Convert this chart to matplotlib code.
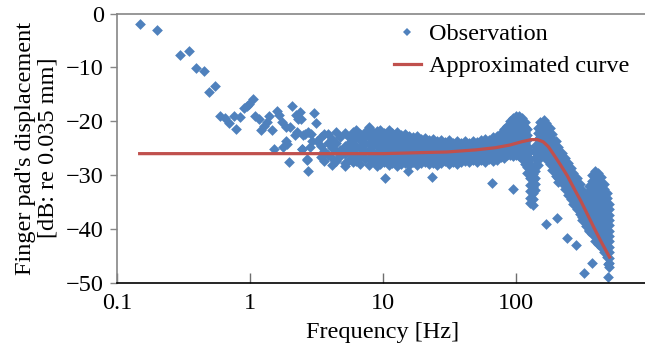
import matplotlib
matplotlib.use("Agg")
import matplotlib.pyplot as plt
from matplotlib.ticker import NullLocator
from matplotlib.lines import Line2D

plt.rcParams['font.family'] = ['Liberation Serif', 'DejaVu Serif']
plt.rcParams['font.size'] = 17.5

# ---------------- data ----------------
# sparse low-frequency observations
sparse_f = [0.148, 0.200, 0.296, 0.347, 0.396, 0.449, 0.496, 0.544, 0.600, 0.654,
            0.693, 0.756, 0.791, 0.848, 0.909, 0.952, 0.99, 1.06, 1.09, 1.16,
            1.22, 1.27, 1.35, 1.38, 1.47, 1.51, 1.60, 1.65, 1.75, 1.78,
            1.85, 1.87, 1.91, 1.96, 1.99, 2.08, 2.17, 2.20, 2.26, 2.30,
            2.37, 2.40, 2.44, 2.47, 2.52, 2.57, 2.69, 2.70, 2.72, 2.75,
            2.82, 2.90, 2.94, 3.02, 3.11, 3.20]
sparse_db = [-2.0, -3.1, -7.7, -7.0, -10.1, -10.7, -14.6, -13.4, -19.1, -19.3,
             -20.3, -19.1, -21.5, -19.2, -17.5, -17.2, -16.7, -15.9, -19.1, -19.5,
             -21.6, -20.8, -20.1, -19.1, -21.7, -25.1, -18.0, -18.9, -20.1, -24.8,
             -23.6, -21.1, -24.2, -27.6, -21.1, -17.2, -22.6, -18.9, -22.0, -19.6,
             -18.3, -19.5, -25.1, -25.1, -22.6, -22.3, -27.2, -27.0, -29.3, -22.0,
             -24.8, -22.3, -23.6, -18.5, -20.4, -23.6]

# isolated low outliers
outlier_f = [5.2, 10.4, 15.3, 23.5, 65.5, 95.0, 167.0, 202.0, 242.0, 284.0,
             326.0, 353.0, 374.0, 490.0, 496.0]
outlier_db = [-28.3, -30.5, -29.3, -30.3, -31.4, -32.6, -39.0, -37.9, -41.7, -42.9,
              -48.1, -40.4, -46.3, -46.5, -48.8]

# dense band of observations: (frequency, values at that frequency)
band_cols = [
    (3.39, [-22.9, -24.6, -26.7]),
    (3.63, [-22.4, -25.5, -27.4]),
    (3.89, [-22.3, -24.0, -26.2]),
    (4.17, [-23.2, -25.0, -26.8, -28.1]),
    (4.47, [-22.0, -24.0, -25.6, -27.3]),
    (4.79, [-23.0, -25.4, -26.5]),
    (5.14, [-22.2, -24.5, -26.0, -27.8]),
    (5.51, [-22.9, -24.0, -25.6, -27.2]),
    (5.90, [-22.0, -23.4, -25.0, -26.4, -27.6]),
    (6.32, [-21.7, -23.0, -24.5, -26.0, -27.3]),
    (6.77, [-22.3, -23.5, -25.0, -26.5, -28.0]),
    (7.26, [-22.0, -23.0, -24.3, -25.7, -27.0]),
    (7.78, [-21.1, -22.6, -24.0, -25.4, -26.8, -28.2]),
    (8.34, [-22.0, -23.3, -24.6, -26.0, -27.4]),
    (8.94, [-21.8, -23.0, -24.3, -25.7, -27.0, -28.3]),
    (9.57, [-21.6, -22.6, -23.5, -24.5, -25.4, -26.3, -27.2, -28.0]),
    (10.26, [-22.1, -23.0, -23.9, -24.9, -25.8, -26.7, -27.6]),
    (11.0, [-21.7, -22.6, -23.6, -24.5, -25.5, -26.4, -27.3, -28.2]),
    (11.78, [-22.2, -23.1, -24.0, -25.0, -25.9, -26.8, -27.7]),
    (12.64, [-22.0, -22.9, -23.8, -24.7, -25.7, -26.6, -27.5, -28.3]),
    (13.54, [-22.5, -23.4, -24.3, -25.2, -26.1, -27.0, -27.9]),
    (14.52, [-22.3, -23.2, -24.1, -25.0, -26.0, -26.9, -27.8]),
    (15.56, [-22.7, -23.6, -24.5, -25.4, -26.3, -27.2, -28.1]),
    (16.68, [-23.0, -23.9, -24.8, -25.7, -26.6, -27.5]),
    (17.88, [-22.8, -23.7, -24.6, -25.5, -26.4, -27.3, -28.2]),
    (19.17, [-23.3, -24.2, -25.1, -26.0, -26.9, -27.8]),
    (20.55, [-23.1, -24.0, -24.9, -25.8, -26.7, -27.6]),
    (22.03, [-23.5, -24.4, -25.3, -26.2, -27.1, -28.0]),
    (23.61, [-23.2, -24.1, -25.0, -25.9, -26.8, -27.7]),
    (25.31, [-23.7, -24.6, -25.5, -26.4, -27.3, -28.1]),
    (27.13, [-23.4, -24.3, -25.2, -26.1, -27.0, -27.8]),
    (29.08, [-23.8, -24.7, -25.6, -26.5, -27.4]),
    (31.17, [-23.5, -24.4, -25.3, -26.2, -27.1, -27.9]),
    (33.42, [-24.0, -24.9, -25.8, -26.7, -27.6]),
    (35.82, [-23.6, -24.5, -25.4, -26.3, -27.2, -28.0]),
    (38.40, [-24.1, -25.0, -25.9, -26.8, -27.6]),
    (41.16, [-23.7, -24.6, -25.5, -26.4, -27.3]),
    (44.12, [-24.0, -24.9, -25.8, -26.7, -27.6]),
    (47.30, [-23.6, -24.5, -25.4, -26.3, -27.2]),
    (50.70, [-23.9, -24.8, -25.7, -26.6, -27.5]),
    (54.35, [-23.5, -24.4, -25.3, -26.2, -27.1]),
    (58.26, [-23.3, -24.2, -25.1, -26.0, -26.9, -27.6]),
    (62.45, [-23.4, -24.3, -25.2, -26.1, -27.0]),
    (66.94, [-23.0, -23.9, -24.8, -25.7, -26.6, -27.4]),
    (71.76, [-22.8, -23.7, -24.6, -25.5, -26.4, -27.2]),
    (76.93, [-22.2, -23.1, -24.0, -24.9, -25.8, -26.7]),
    (81.0, [-21.5, -22.4, -23.3, -24.2, -25.1, -26.0, -26.8]),
    (85.2, [-20.8, -21.7, -22.6, -23.5, -24.4, -25.3, -26.2]),
    (89.6, [-20.0, -20.9, -21.8, -22.7, -23.6, -24.5, -25.4, -26.3]),
    (94.3, [-19.4, -20.3, -21.2, -22.1, -23.0, -23.9, -24.8, -25.7, -26.5]),
    (99.2, [-19.0, -19.9, -20.8, -21.7, -22.6, -23.5, -24.4, -25.3, -26.2]),
    (104.5, [-19.0, -19.9, -20.8, -21.7, -22.6, -23.5, -24.4, -25.4, -26.4]),
    (110.0, [-19.4, -20.3, -21.2, -22.1, -23.0, -24.0, -25.0, -26.0, -27.0]),
    (116.0, [-20.2, -21.1, -22.0, -23.0, -24.0, -25.0, -26.0, -27.0, -28.0]),
    (122.0, [-21.5, -22.5, -23.5, -24.5, -25.5, -26.5, -27.5, -28.5, -29.5]),
    (127.4, [-25.5, -27.0, -28.2, -29.4, -30.6, -31.8, -33.0, -34.2, -35.2]),
    (133.1, [-28.5, -29.7, -30.9, -32.1, -33.3, -34.5, -35.6]),
    (139.0, [-24.5, -25.7, -26.9, -28.1, -29.3, -30.5, -31.7, -32.8]),
    (145.2, [-21.2, -22.2, -23.2, -24.2, -25.2, -26.2, -27.2, -28.2]),
    (152.8, [-20.2, -21.1, -22.0, -23.0, -24.0, -25.0, -26.0]),
    (161.0, [-19.8, -20.7, -21.6, -22.5, -23.5, -24.5, -25.5, -26.4]),
    (169.5, [-20.4, -21.3, -22.2, -23.1, -24.0, -25.0, -26.0, -27.0]),
    (178.6, [-21.3, -22.2, -23.1, -24.0, -25.0, -26.0, -27.0, -28.0]),
    (188.1, [-22.4, -23.3, -24.2, -25.2, -26.2, -27.2, -28.2, -29.0]),
    (198.2, [-23.6, -24.5, -25.4, -26.4, -27.4, -28.4, -29.4, -30.2]),
    (208.7, [-24.8, -25.7, -26.6, -27.6, -28.6, -29.6, -30.6, -31.2]),
    (219.9, [-25.8, -26.7, -27.7, -28.7, -29.7, -30.7, -31.5]),
    (231.6, [-26.8, -27.7, -28.7, -29.7, -30.7, -31.7, -32.6]),
    (244.0, [-27.8, -28.7, -29.7, -30.7, -31.7, -32.7, -33.6]),
    (257.0, [-28.6, -29.5, -30.5, -31.5, -32.5, -33.5, -34.5]),
    (270.6, [-29.5, -30.4, -31.4, -32.4, -33.4, -34.4, -35.4]),
    (285.1, [-30.6, -31.5, -32.5, -33.5, -34.5, -35.5, -36.3]),
    (300.3, [-31.6, -32.5, -33.5, -34.5, -35.5, -36.5, -37.2]),
    (316.2, [-32.8, -33.7, -34.7, -35.7, -36.7, -37.7, -38.4]),
    (333.1, [-33.8, -34.8, -35.8, -36.8, -37.8, -38.8, -39.5]),
    (350.9, [-32.0, -33.0, -34.0, -35.0, -36.0, -37.0, -38.0, -39.0, -40.2]),
    (369.6, [-30.0, -31.0, -32.0, -33.0, -34.0, -35.0, -36.0, -37.0, -38.0, -39.0, -40.0, -41.0]),
    (389.3, [-29.3, -30.3, -31.3, -32.3, -33.3, -34.3, -35.3, -36.3, -37.3, -38.3, -39.3, -40.3, -41.3, -42.3]),
    (410.1, [-29.6, -30.6, -31.6, -32.6, -33.6, -34.6, -35.6, -36.6, -37.6, -38.6, -39.6, -40.6, -41.6, -42.7]),
    (431.9, [-30.4, -31.4, -32.4, -33.4, -34.4, -35.4, -36.4, -37.4, -38.4, -39.4, -40.4, -41.4, -42.4, -43.3]),
    (454.9, [-31.6, -32.6, -33.6, -34.6, -35.6, -36.6, -37.6, -38.6, -39.6, -40.6, -41.6, -42.6, -43.6, -44.3]),
    (479.2, [-33.3, -34.3, -35.3, -36.3, -37.3, -38.3, -39.3, -40.3, -41.3, -42.3, -43.3, -44.3, -45.2]),
    (504.6, [-35.3, -36.3, -37.3, -38.3, -39.3, -40.3, -41.3, -42.3, -43.3, -44.3, -45.3, -46.3, -47.0]),
]

# approximated curve
curve_f = [0.148, 1, 10, 20, 30, 50, 70, 90, 110, 130, 145, 160, 175, 190,
           215, 243, 275, 306, 345, 385, 440, 505]
curve_db = [-26.0, -26.0, -26.0, -25.8, -25.7, -25.3, -24.9, -24.4, -23.8, -23.4,
            -23.4, -23.8, -24.7, -26.0, -28.0, -30.1, -32.6, -34.7, -37.3, -39.7,
            -42.5, -45.2]

xtick_vals = [0.1, 1, 10, 100]
xtick_labels = ['0.1', '1', '10', '100']
ytick_vals = [-50, -40, -30, -20, -10, 0]

# ---------------- assemble observation series ----------------
obs_f = list(sparse_f) + list(outlier_f)
obs_db = list(sparse_db) + list(outlier_db)
for f, vals in band_cols:
    obs_f += [f] * len(vals)
    obs_db += list(vals)

BLUE = '#4F81BD'
RED = '#C0504D'

W, H = 645, 352
fig = plt.figure(figsize=(W / 100, H / 100), dpi=100)
ax = fig.add_axes([117 / W, (H - 283) / H, 532 / W, (283 - 13.5) / H])

ax.scatter(obs_f, obs_db, marker='D', s=30, color=BLUE, linewidths=0, zorder=2)
ax.plot(curve_f, curve_db, color=RED, lw=2.3, zorder=3)

ax.set_xscale('log')
ax.set_xlim(0.1, 1000)
ax.set_ylim(-50, 0)
ax.set_xticks(xtick_vals)
ax.set_xticklabels(xtick_labels)
ax.xaxis.set_minor_locator(NullLocator())
ax.set_yticks(ytick_vals)

ax.tick_params(axis='x', direction='in', length=7, width=1, color='#6e6e6e', pad=7)
ax.tick_params(axis='y', direction='out', length=5, width=1, color='#868686', pad=4.5)

for side in ['left', 'top']:
    ax.spines[side].set_color('#868686')
    ax.spines[side].set_linewidth(1.2)
ax.spines['bottom'].set_color('#000000')
ax.spines['bottom'].set_linewidth(1.2)
ax.spines['right'].set_visible(False)

ax.set_xlabel('Frequency [Hz]', labelpad=6)
ax.set_ylabel("Finger pad's displacement\n[dB: re 0.035 mm]", linespacing=1.12)
ax.yaxis.set_label_coords(-0.11, 0.5)

handles = [
    Line2D([], [], ls='none', marker='D', ms=4.0, color=BLUE, mew=0),
    Line2D([], [], color=RED, lw=2.3),
]
leg = ax.legend(handles, ['Observation', 'Approximated curve'], loc='upper left',
                bbox_to_anchor=(394 / W, (H - 23) / H), bbox_transform=fig.transFigure,
                frameon=False, handlelength=1.1, handletextpad=0.35,
                labelspacing=0.42, borderaxespad=0, borderpad=0)

fig.savefig('out.png', dpi=100)
